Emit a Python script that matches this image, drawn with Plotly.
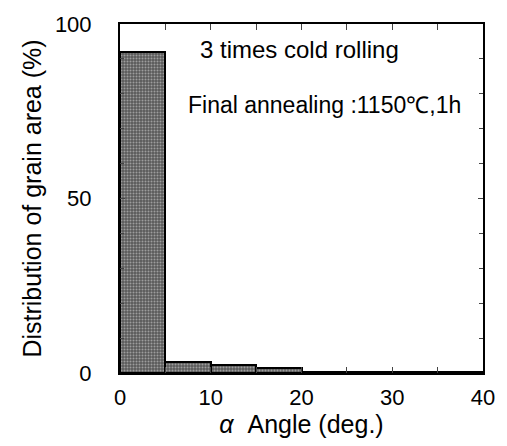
import plotly.graph_objects as go

bin_centers = [2.5, 7.5, 12.5, 17.5, 22.5, 27.5, 32.5, 37.5]
bin_width = 5
area_pct = [92, 3.2, 2.2, 1.4, 0.3, 0.3, 0.2, 0.2]

fig = go.Figure()
fig.add_trace(go.Bar(
    x=bin_centers, y=area_pct, width=[bin_width]*len(bin_centers),
    marker=dict(color="#7a7a7a", line=dict(color="black", width=2),
                pattern=dict(shape=".", fgcolor="#e0e0e0", bgcolor="#5a5a5a", size=3, solidity=0.35)),
    showlegend=False,
))

font = "Liberation Sans, Arial, sans-serif"
fig.update_layout(
    width=507, height=446,
    margin=dict(l=120, r=19, t=13, b=73),
    paper_bgcolor="white", plot_bgcolor="white",
    font=dict(family=font, size=22, color="black"),
    bargap=0,
    xaxis=dict(range=[0, 40], tickvals=[0, 10, 20, 30, 40], ticks="inside", ticklen=6,
               minor=dict(dtick=5, ticks="inside", ticklen=6), mirror="allticks",
               showline=True, linecolor="black", linewidth=2, showgrid=False, zeroline=False,
               ticklabelstandoff=4,
               title=dict(text="<i>α</i>  Angle (deg.)", standoff=4, font=dict(size=25))),
    yaxis=dict(range=[0, 100], tickvals=[0, 50, 100], ticks="inside", ticklen=5,
               minor=dict(dtick=10, ticks="inside", ticklen=4), mirror="allticks",
               showline=True, linecolor="black", linewidth=2, showgrid=False, zeroline=False,
               ticklabelstandoff=22,
               title=dict(text="Distribution of grain area (%)", standoff=6, font=dict(size=25))),
    annotations=[
        dict(x=19.8, y=92.8, xref="x", yref="y", text="3 times cold rolling", showarrow=False,
             font=dict(size=24)),
        dict(x=22.5, y=76.7, xref="x", yref="y", text="Final annealing :1150℃,1h", showarrow=False,
             font=dict(size=23)),
    ],
)
fig.write_html("out.html")
